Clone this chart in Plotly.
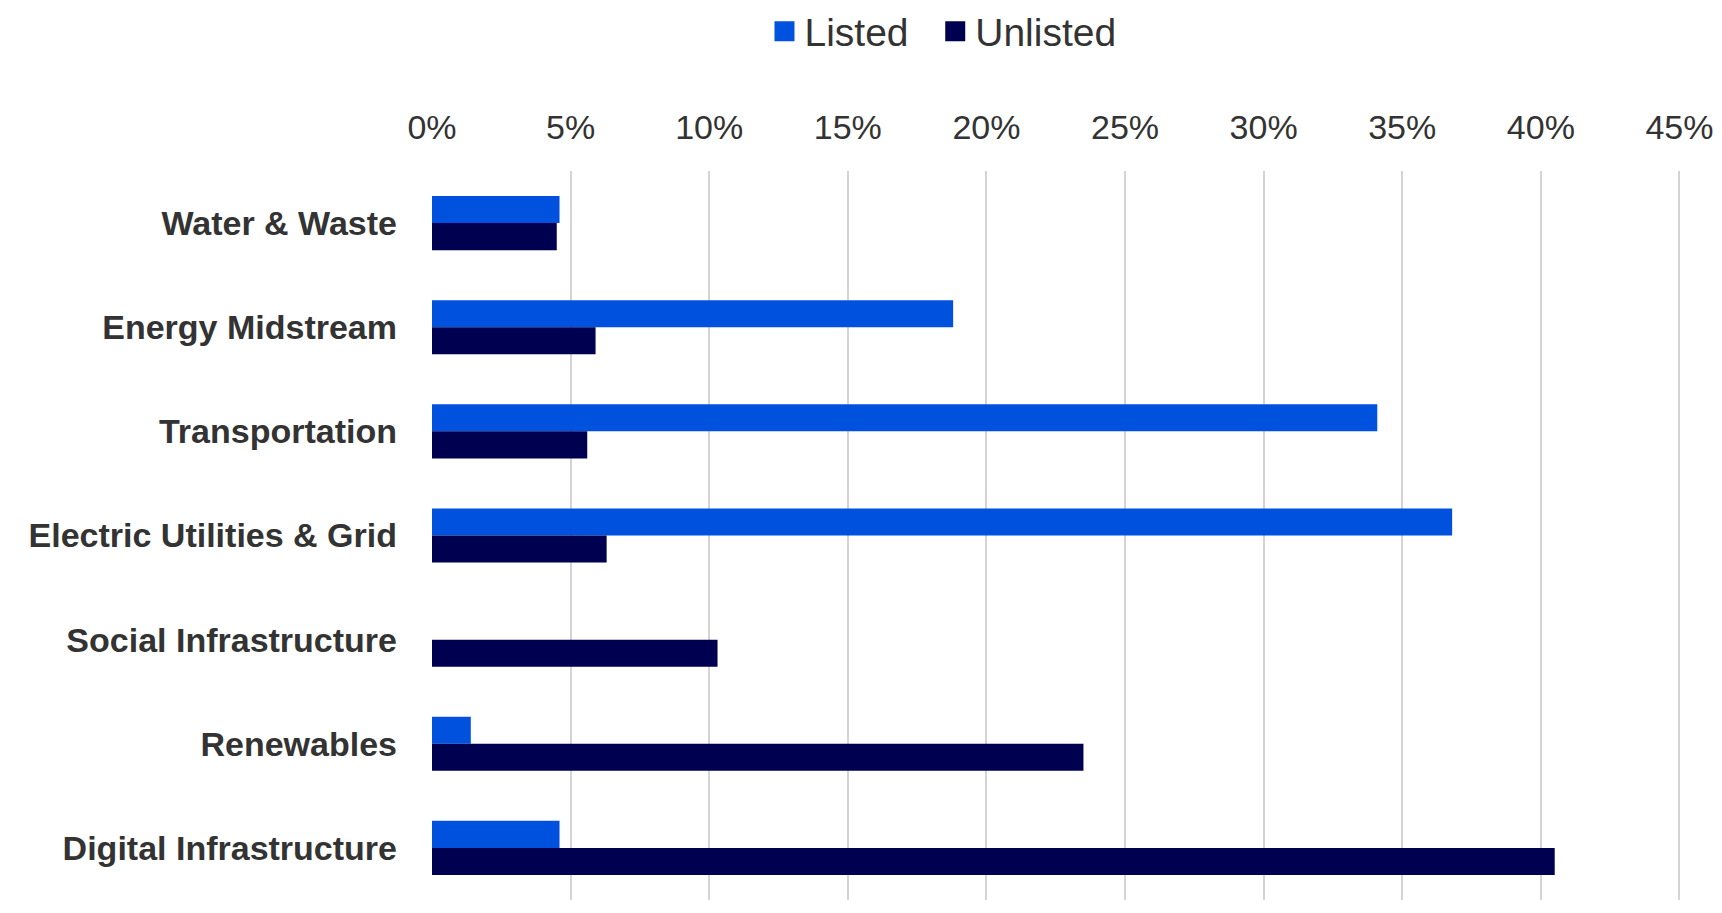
import plotly.graph_objects as go

categories = ["Water & Waste", "Energy Midstream", "Transportation",
              "Electric Utilities & Grid", "Social Infrastructure",
              "Renewables", "Digital Infrastructure"]
listed = [4.6, 18.8, 34.1, 36.8, 0, 1.4, 4.6]
unlisted = [4.5, 5.9, 5.6, 6.3, 10.3, 23.5, 40.5]
x_ticks = [0, 5, 10, 15, 20, 25, 30, 35, 40, 45]

listed_color = '#0052DE'
unlisted_color = '#000050'
font_fam = "Liberation Sans, Arial, sans-serif"

fig = go.Figure()
fig.add_trace(go.Bar(
    y=categories,
    x=listed,
    orientation='h',
    name='Listed',
    marker=dict(color=listed_color, line=dict(width=0)),
    showlegend=False
))
fig.add_trace(go.Bar(
    y=categories,
    x=unlisted,
    orientation='h',
    name='Unlisted',
    marker=dict(color=unlisted_color, line=dict(width=0)),
    showlegend=False
))

# legend-only entries so the squares come out bigger than the bar default
# (nbsp after "Listed" to widen the gap between the two entries)
for name, color in [('Listed\u00a0\u00a0', listed_color), ('Unlisted', unlisted_color)]:
    fig.add_trace(go.Scatter(
        x=[None], y=[None],
        mode='markers',
        name=name,
        marker=dict(symbol='square', size=16, color=color,
                    line=dict(color=color, width=4)),
    ))

# figure is a bit smaller than the window so no scrollbars show up
fig.update_layout(
    width=1714,
    height=897,
    barmode='group',
    bargap=0.48,
    bargroupgap=0,
    plot_bgcolor='white',
    paper_bgcolor='white',
    margin=dict(l=424, r=37, t=163, b=5),
    font=dict(family=font_fam, color='#333333', size=34),
    legend=dict(
        orientation='h',
        xref='container',
        yref='container',
        x=0.5455,
        xanchor='center',
        y=0.974,
        yanchor='middle',
        font=dict(size=39, color='#333333'),
        itemsizing='trace',
        itemwidth=30,
        traceorder='normal',
    ),
)

fig.update_xaxes(
    side='top',
    range=[0, 45.2],
    tickvals=x_ticks,
    ticktext=[str(v) + '%' for v in x_ticks],
    showgrid=True,
    gridcolor='#d4d4d4',
    gridwidth=1.5,
    zeroline=False,
    showline=False,
    ticks='',
    ticklabelstandoff=24,
    automargin=False,
    tickfont=dict(size=34, color='#333333'),
)
fig.update_yaxes(
    autorange='reversed',
    showgrid=False,
    zeroline=False,
    showline=False,
    ticks='',
    ticklabelstandoff=34,
    automargin=False,
    tickfont=dict(size=34, color='#333333', weight='bold'),
)

fig.write_html("out.html")
